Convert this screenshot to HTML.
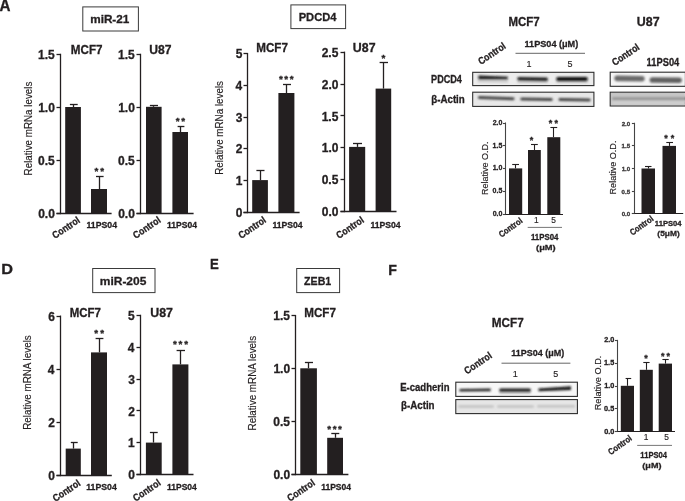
<!DOCTYPE html>
<html><head><meta charset="utf-8"><style>
html,body{margin:0;padding:0;background:#fff;}
svg{display:block;will-change:transform;}
text{font-family:"Liberation Sans", sans-serif;}
text[font-weight="bold"]{stroke:#231f20;stroke-width:0.3px;}
text[font-weight="normal"]{stroke:#231f20;stroke-width:0.15px;}
</style></head><body>
<svg width="685" height="501" viewBox="0 0 685 501">
<rect width="685" height="501" fill="#fff"/>
<text x="-0.38" y="11.40" font-size="16.5" font-weight="bold" fill="#231f20" textLength="10.98" lengthAdjust="spacingAndGlyphs">A</text>
<text x="1.31" y="274.00" font-size="14.6" font-weight="bold" fill="#231f20" textLength="11.78" lengthAdjust="spacingAndGlyphs">D</text>
<text x="210.12" y="268.60" font-size="14.8" font-weight="bold" fill="#231f20" textLength="8.80" lengthAdjust="spacingAndGlyphs">E</text>
<text x="388.15" y="275.10" font-size="15.5" font-weight="bold" fill="#231f20" textLength="8.67" lengthAdjust="spacingAndGlyphs">F</text>
<rect x="82.80" y="6.90" width="55.60" height="24.10" fill="none" stroke="#3a3a3a" stroke-width="1.0"/>
<text x="90.23" y="23.00" font-size="10.8" font-weight="bold" fill="#231f20" textLength="39.10" lengthAdjust="spacingAndGlyphs">miR-21</text>
<rect x="290.90" y="4.90" width="54.70" height="23.70" fill="none" stroke="#3a3a3a" stroke-width="1.0"/>
<text x="298.65" y="21.00" font-size="11.6" font-weight="bold" fill="#231f20" textLength="37.81" lengthAdjust="spacingAndGlyphs">PDCD4</text>
<rect x="92.70" y="268.50" width="62.30" height="24.10" fill="none" stroke="#3a3a3a" stroke-width="1.0"/>
<text x="99.81" y="285.00" font-size="11.6" font-weight="bold" fill="#231f20" textLength="46.52" lengthAdjust="spacingAndGlyphs">miR-205</text>
<rect x="296.70" y="268.50" width="42.90" height="24.10" fill="none" stroke="#3a3a3a" stroke-width="1.0"/>
<text x="304.08" y="284.60" font-size="11.6" font-weight="bold" fill="#231f20" textLength="27.21" lengthAdjust="spacingAndGlyphs">ZEB1</text>
<line x1="60.50" y1="53.75" x2="60.50" y2="214.15" stroke="#231f20" stroke-width="1.3"/>
<line x1="56.50" y1="213.50" x2="111.60" y2="213.50" stroke="#231f20" stroke-width="1.3"/>
<line x1="56.50" y1="54.50" x2="60.50" y2="54.50" stroke="#231f20" stroke-width="1.3"/>
<text x="38.05" y="59.13" font-size="12" font-weight="bold" fill="#231f20" textLength="16.68" lengthAdjust="spacingAndGlyphs">1.5</text>
<line x1="56.50" y1="107.50" x2="60.50" y2="107.50" stroke="#231f20" stroke-width="1.3"/>
<text x="38.21" y="112.13" font-size="12" font-weight="bold" fill="#231f20" textLength="16.68" lengthAdjust="spacingAndGlyphs">1.0</text>
<line x1="56.50" y1="160.50" x2="60.50" y2="160.50" stroke="#231f20" stroke-width="1.3"/>
<text x="38.05" y="165.13" font-size="12" font-weight="bold" fill="#231f20" textLength="16.68" lengthAdjust="spacingAndGlyphs">0.5</text>
<line x1="56.50" y1="213.50" x2="60.50" y2="213.50" stroke="#231f20" stroke-width="1.3"/>
<text x="38.21" y="218.13" font-size="12" font-weight="bold" fill="#231f20" textLength="16.68" lengthAdjust="spacingAndGlyphs">0.0</text>
<rect x="65.20" y="107.00" width="15.70" height="106.50" fill="#231f20"/>
<line x1="73.50" y1="104.40" x2="73.50" y2="107.00" stroke="#231f20" stroke-width="1.3"/>
<line x1="69.90" y1="104.50" x2="77.70" y2="104.50" stroke="#231f20" stroke-width="1.3"/>
<rect x="91.00" y="189.00" width="16.00" height="24.50" fill="#231f20"/>
<line x1="99.50" y1="176.40" x2="99.50" y2="189.00" stroke="#231f20" stroke-width="1.3"/>
<line x1="96.00" y1="176.50" x2="103.60" y2="176.50" stroke="#231f20" stroke-width="1.3"/>
<text x="70.82" y="54.40" font-size="12" font-weight="bold" fill="#231f20" textLength="31.69" lengthAdjust="spacingAndGlyphs">MCF7</text>
<text x="94.57" y="174.17" font-size="9.90" font-weight="bold" fill="#231f20">*</text>
<text x="100.36" y="174.17" font-size="9.90" font-weight="bold" fill="#231f20">*</text>
<text x="86.46" y="228.00" font-size="8.8" font-weight="bold" fill="#231f20" textLength="30.59" lengthAdjust="spacingAndGlyphs">11PS04</text>
<text transform="translate(55.40,238.90) rotate(-34)" x="-0.36" y="0" font-size="10.0" font-weight="bold" fill="#231f20" textLength="30.97" lengthAdjust="spacingAndGlyphs">Control</text>
<text transform="translate(31.60,174.60) rotate(-90)" x="-0.80" y="0" font-size="10.6" font-weight="normal" fill="#231f20" textLength="93.76" lengthAdjust="spacingAndGlyphs">Relative mRNa levels</text>
<line x1="140.50" y1="53.75" x2="140.50" y2="214.15" stroke="#231f20" stroke-width="1.3"/>
<line x1="136.50" y1="213.50" x2="193.60" y2="213.50" stroke="#231f20" stroke-width="1.3"/>
<line x1="136.50" y1="54.50" x2="140.50" y2="54.50" stroke="#231f20" stroke-width="1.3"/>
<text x="118.05" y="59.13" font-size="12" font-weight="bold" fill="#231f20" textLength="16.68" lengthAdjust="spacingAndGlyphs">1.5</text>
<line x1="136.50" y1="107.50" x2="140.50" y2="107.50" stroke="#231f20" stroke-width="1.3"/>
<text x="118.21" y="112.13" font-size="12" font-weight="bold" fill="#231f20" textLength="16.68" lengthAdjust="spacingAndGlyphs">1.0</text>
<line x1="136.50" y1="160.50" x2="140.50" y2="160.50" stroke="#231f20" stroke-width="1.3"/>
<text x="118.05" y="165.13" font-size="12" font-weight="bold" fill="#231f20" textLength="16.68" lengthAdjust="spacingAndGlyphs">0.5</text>
<line x1="136.50" y1="213.50" x2="140.50" y2="213.50" stroke="#231f20" stroke-width="1.3"/>
<text x="118.21" y="218.13" font-size="12" font-weight="bold" fill="#231f20" textLength="16.68" lengthAdjust="spacingAndGlyphs">0.0</text>
<rect x="146.00" y="106.80" width="15.60" height="106.70" fill="#231f20"/>
<line x1="153.50" y1="105.50" x2="153.50" y2="106.80" stroke="#231f20" stroke-width="1.3"/>
<line x1="149.90" y1="105.50" x2="158.00" y2="105.50" stroke="#231f20" stroke-width="1.3"/>
<rect x="172.40" y="132.00" width="15.60" height="81.50" fill="#231f20"/>
<line x1="180.50" y1="126.40" x2="180.50" y2="132.00" stroke="#231f20" stroke-width="1.3"/>
<line x1="177.60" y1="126.50" x2="184.40" y2="126.50" stroke="#231f20" stroke-width="1.3"/>
<text x="149.27" y="54.40" font-size="12" font-weight="bold" fill="#231f20" textLength="22.26" lengthAdjust="spacingAndGlyphs">U87</text>
<text x="175.77" y="123.97" font-size="9.90" font-weight="bold" fill="#231f20">*</text>
<text x="181.36" y="123.97" font-size="9.90" font-weight="bold" fill="#231f20">*</text>
<text x="167.07" y="228.00" font-size="8.8" font-weight="bold" fill="#231f20" textLength="29.98" lengthAdjust="spacingAndGlyphs">11PS04</text>
<text transform="translate(136.10,238.70) rotate(-34)" x="-0.36" y="0" font-size="10.0" font-weight="bold" fill="#231f20" textLength="30.97" lengthAdjust="spacingAndGlyphs">Control</text>
<text transform="translate(222.60,174.00) rotate(-90)" x="-0.80" y="0" font-size="10.6" font-weight="normal" fill="#231f20" textLength="93.76" lengthAdjust="spacingAndGlyphs">Relative mRNa levels</text>
<line x1="247.50" y1="52.95" x2="247.50" y2="213.15" stroke="#231f20" stroke-width="1.3"/>
<line x1="243.50" y1="212.50" x2="299.60" y2="212.50" stroke="#231f20" stroke-width="1.3"/>
<line x1="243.50" y1="53.50" x2="247.50" y2="53.50" stroke="#231f20" stroke-width="1.3"/>
<text x="235.66" y="58.33" font-size="12" font-weight="bold" fill="#231f20" textLength="6.67" lengthAdjust="spacingAndGlyphs">5</text>
<line x1="243.50" y1="85.50" x2="247.50" y2="85.50" stroke="#231f20" stroke-width="1.3"/>
<text x="235.39" y="90.05" font-size="12" font-weight="bold" fill="#231f20" textLength="6.67" lengthAdjust="spacingAndGlyphs">4</text>
<line x1="243.50" y1="117.50" x2="247.50" y2="117.50" stroke="#231f20" stroke-width="1.3"/>
<text x="235.76" y="121.77" font-size="12" font-weight="bold" fill="#231f20" textLength="6.67" lengthAdjust="spacingAndGlyphs">3</text>
<line x1="243.50" y1="148.50" x2="247.50" y2="148.50" stroke="#231f20" stroke-width="1.3"/>
<text x="235.81" y="153.49" font-size="12" font-weight="bold" fill="#231f20" textLength="6.67" lengthAdjust="spacingAndGlyphs">2</text>
<line x1="243.50" y1="180.50" x2="247.50" y2="180.50" stroke="#231f20" stroke-width="1.3"/>
<text x="235.66" y="185.21" font-size="12" font-weight="bold" fill="#231f20" textLength="6.67" lengthAdjust="spacingAndGlyphs">1</text>
<line x1="243.50" y1="212.50" x2="247.50" y2="212.50" stroke="#231f20" stroke-width="1.3"/>
<text x="235.82" y="216.93" font-size="12" font-weight="bold" fill="#231f20" textLength="6.67" lengthAdjust="spacingAndGlyphs">0</text>
<rect x="252.20" y="180.10" width="15.70" height="32.40" fill="#231f20"/>
<line x1="260.50" y1="170.10" x2="260.50" y2="180.10" stroke="#231f20" stroke-width="1.3"/>
<line x1="256.40" y1="170.50" x2="264.50" y2="170.50" stroke="#231f20" stroke-width="1.3"/>
<rect x="278.40" y="93.00" width="16.00" height="119.50" fill="#231f20"/>
<line x1="286.50" y1="84.40" x2="286.50" y2="93.00" stroke="#231f20" stroke-width="1.3"/>
<line x1="283.00" y1="84.50" x2="291.00" y2="84.50" stroke="#231f20" stroke-width="1.3"/>
<text x="256.22" y="52.40" font-size="12" font-weight="bold" fill="#231f20" textLength="31.69" lengthAdjust="spacingAndGlyphs">MCF7</text>
<text x="278.97" y="81.57" font-size="9.90" font-weight="bold" fill="#231f20">*</text>
<text x="284.36" y="81.57" font-size="9.90" font-weight="bold" fill="#231f20">*</text>
<text x="289.76" y="81.57" font-size="9.90" font-weight="bold" fill="#231f20">*</text>
<text x="272.47" y="228.00" font-size="8.8" font-weight="bold" fill="#231f20" textLength="30.18" lengthAdjust="spacingAndGlyphs">11PS04</text>
<text transform="translate(241.50,238.70) rotate(-34)" x="-0.36" y="0" font-size="10.0" font-weight="bold" fill="#231f20" textLength="30.97" lengthAdjust="spacingAndGlyphs">Control</text>
<line x1="344.50" y1="51.65" x2="344.50" y2="212.15" stroke="#231f20" stroke-width="1.3"/>
<line x1="340.50" y1="211.50" x2="396.50" y2="211.50" stroke="#231f20" stroke-width="1.3"/>
<line x1="340.50" y1="52.50" x2="344.50" y2="52.50" stroke="#231f20" stroke-width="1.3"/>
<text x="321.65" y="57.03" font-size="12" font-weight="bold" fill="#231f20" textLength="16.68" lengthAdjust="spacingAndGlyphs">2.5</text>
<line x1="340.50" y1="84.50" x2="344.50" y2="84.50" stroke="#231f20" stroke-width="1.3"/>
<text x="321.81" y="88.83" font-size="12" font-weight="bold" fill="#231f20" textLength="16.68" lengthAdjust="spacingAndGlyphs">2.0</text>
<line x1="340.50" y1="115.50" x2="344.50" y2="115.50" stroke="#231f20" stroke-width="1.3"/>
<text x="321.65" y="120.63" font-size="12" font-weight="bold" fill="#231f20" textLength="16.68" lengthAdjust="spacingAndGlyphs">1.5</text>
<line x1="340.50" y1="147.50" x2="344.50" y2="147.50" stroke="#231f20" stroke-width="1.3"/>
<text x="321.81" y="152.43" font-size="12" font-weight="bold" fill="#231f20" textLength="16.68" lengthAdjust="spacingAndGlyphs">1.0</text>
<line x1="340.50" y1="179.50" x2="344.50" y2="179.50" stroke="#231f20" stroke-width="1.3"/>
<text x="321.65" y="184.23" font-size="12" font-weight="bold" fill="#231f20" textLength="16.68" lengthAdjust="spacingAndGlyphs">0.5</text>
<line x1="340.50" y1="211.50" x2="344.50" y2="211.50" stroke="#231f20" stroke-width="1.3"/>
<text x="321.81" y="216.03" font-size="12" font-weight="bold" fill="#231f20" textLength="16.68" lengthAdjust="spacingAndGlyphs">0.0</text>
<rect x="349.10" y="146.90" width="16.10" height="64.60" fill="#231f20"/>
<line x1="357.50" y1="143.80" x2="357.50" y2="146.90" stroke="#231f20" stroke-width="1.3"/>
<line x1="353.00" y1="143.50" x2="362.00" y2="143.50" stroke="#231f20" stroke-width="1.3"/>
<rect x="375.60" y="88.60" width="15.60" height="122.90" fill="#231f20"/>
<line x1="383.50" y1="62.80" x2="383.50" y2="88.60" stroke="#231f20" stroke-width="1.3"/>
<line x1="379.60" y1="62.50" x2="388.00" y2="62.50" stroke="#231f20" stroke-width="1.3"/>
<text x="352.86" y="52.40" font-size="12" font-weight="bold" fill="#231f20" textLength="22.69" lengthAdjust="spacingAndGlyphs">U87</text>
<text x="381.56" y="61.37" font-size="9.90" font-weight="bold" fill="#231f20">*</text>
<text x="370.47" y="228.00" font-size="8.8" font-weight="bold" fill="#231f20" textLength="30.18" lengthAdjust="spacingAndGlyphs">11PS04</text>
<text transform="translate(339.30,238.70) rotate(-34)" x="-0.36" y="0" font-size="10.0" font-weight="bold" fill="#231f20" textLength="30.97" lengthAdjust="spacingAndGlyphs">Control</text>
<line x1="60.50" y1="315.55" x2="60.50" y2="476.15" stroke="#231f20" stroke-width="1.3"/>
<line x1="56.50" y1="475.50" x2="111.80" y2="475.50" stroke="#231f20" stroke-width="1.3"/>
<line x1="56.50" y1="316.50" x2="60.50" y2="316.50" stroke="#231f20" stroke-width="1.3"/>
<text x="48.16" y="320.93" font-size="12" font-weight="bold" fill="#231f20" textLength="6.67" lengthAdjust="spacingAndGlyphs">6</text>
<line x1="56.50" y1="369.50" x2="60.50" y2="369.50" stroke="#231f20" stroke-width="1.3"/>
<text x="47.79" y="374.03" font-size="12" font-weight="bold" fill="#231f20" textLength="6.67" lengthAdjust="spacingAndGlyphs">4</text>
<line x1="56.50" y1="422.50" x2="60.50" y2="422.50" stroke="#231f20" stroke-width="1.3"/>
<text x="48.21" y="427.13" font-size="12" font-weight="bold" fill="#231f20" textLength="6.67" lengthAdjust="spacingAndGlyphs">2</text>
<line x1="56.50" y1="475.50" x2="60.50" y2="475.50" stroke="#231f20" stroke-width="1.3"/>
<text x="48.22" y="480.23" font-size="12" font-weight="bold" fill="#231f20" textLength="6.67" lengthAdjust="spacingAndGlyphs">0</text>
<rect x="65.70" y="448.60" width="15.10" height="26.90" fill="#231f20"/>
<line x1="73.50" y1="442.30" x2="73.50" y2="448.60" stroke="#231f20" stroke-width="1.3"/>
<line x1="70.80" y1="442.50" x2="77.70" y2="442.50" stroke="#231f20" stroke-width="1.3"/>
<rect x="91.00" y="352.40" width="16.00" height="123.10" fill="#231f20"/>
<line x1="99.50" y1="338.40" x2="99.50" y2="352.40" stroke="#231f20" stroke-width="1.3"/>
<line x1="95.60" y1="338.50" x2="103.40" y2="338.50" stroke="#231f20" stroke-width="1.3"/>
<text x="69.63" y="317.00" font-size="12" font-weight="bold" fill="#231f20" textLength="31.27" lengthAdjust="spacingAndGlyphs">MCF7</text>
<text x="94.37" y="336.17" font-size="9.90" font-weight="bold" fill="#231f20">*</text>
<text x="100.16" y="336.17" font-size="9.90" font-weight="bold" fill="#231f20">*</text>
<text x="86.26" y="490.20" font-size="8.8" font-weight="bold" fill="#231f20" textLength="30.49" lengthAdjust="spacingAndGlyphs">11PS04</text>
<text transform="translate(55.80,501.90) rotate(-34)" x="-0.36" y="0" font-size="10.0" font-weight="bold" fill="#231f20" textLength="30.97" lengthAdjust="spacingAndGlyphs">Control</text>
<text transform="translate(31.40,429.00) rotate(-90)" x="-0.80" y="0" font-size="10.6" font-weight="normal" fill="#231f20" textLength="94.56" lengthAdjust="spacingAndGlyphs">Relative mRNA levels</text>
<line x1="140.50" y1="314.75" x2="140.50" y2="475.15" stroke="#231f20" stroke-width="1.3"/>
<line x1="136.50" y1="474.50" x2="193.50" y2="474.50" stroke="#231f20" stroke-width="1.3"/>
<line x1="136.50" y1="315.50" x2="140.50" y2="315.50" stroke="#231f20" stroke-width="1.3"/>
<text x="128.06" y="320.13" font-size="12" font-weight="bold" fill="#231f20" textLength="6.67" lengthAdjust="spacingAndGlyphs">5</text>
<line x1="136.50" y1="347.50" x2="140.50" y2="347.50" stroke="#231f20" stroke-width="1.3"/>
<text x="127.79" y="351.97" font-size="12" font-weight="bold" fill="#231f20" textLength="6.67" lengthAdjust="spacingAndGlyphs">4</text>
<line x1="136.50" y1="379.50" x2="140.50" y2="379.50" stroke="#231f20" stroke-width="1.3"/>
<text x="128.16" y="383.81" font-size="12" font-weight="bold" fill="#231f20" textLength="6.67" lengthAdjust="spacingAndGlyphs">3</text>
<line x1="136.50" y1="410.50" x2="140.50" y2="410.50" stroke="#231f20" stroke-width="1.3"/>
<text x="128.21" y="415.65" font-size="12" font-weight="bold" fill="#231f20" textLength="6.67" lengthAdjust="spacingAndGlyphs">2</text>
<line x1="136.50" y1="442.50" x2="140.50" y2="442.50" stroke="#231f20" stroke-width="1.3"/>
<text x="128.06" y="447.49" font-size="12" font-weight="bold" fill="#231f20" textLength="6.67" lengthAdjust="spacingAndGlyphs">1</text>
<line x1="136.50" y1="474.50" x2="140.50" y2="474.50" stroke="#231f20" stroke-width="1.3"/>
<text x="128.22" y="479.33" font-size="12" font-weight="bold" fill="#231f20" textLength="6.67" lengthAdjust="spacingAndGlyphs">0</text>
<rect x="145.90" y="442.60" width="15.80" height="31.90" fill="#231f20"/>
<line x1="153.50" y1="432.70" x2="153.50" y2="442.60" stroke="#231f20" stroke-width="1.3"/>
<line x1="149.90" y1="432.50" x2="157.70" y2="432.50" stroke="#231f20" stroke-width="1.3"/>
<rect x="172.40" y="364.40" width="16.00" height="110.10" fill="#231f20"/>
<line x1="180.50" y1="350.00" x2="180.50" y2="364.40" stroke="#231f20" stroke-width="1.3"/>
<line x1="176.60" y1="350.50" x2="185.00" y2="350.50" stroke="#231f20" stroke-width="1.3"/>
<text x="150.26" y="317.00" font-size="12" font-weight="bold" fill="#231f20" textLength="22.69" lengthAdjust="spacingAndGlyphs">U87</text>
<text x="172.97" y="346.97" font-size="9.90" font-weight="bold" fill="#231f20">*</text>
<text x="178.56" y="346.97" font-size="9.90" font-weight="bold" fill="#231f20">*</text>
<text x="184.16" y="346.97" font-size="9.90" font-weight="bold" fill="#231f20">*</text>
<text x="166.97" y="490.20" font-size="8.8" font-weight="bold" fill="#231f20" textLength="29.87" lengthAdjust="spacingAndGlyphs">11PS04</text>
<text transform="translate(136.10,501.60) rotate(-34)" x="-0.36" y="0" font-size="10.0" font-weight="bold" fill="#231f20" textLength="30.97" lengthAdjust="spacingAndGlyphs">Control</text>
<line x1="295.50" y1="314.95" x2="295.50" y2="475.15" stroke="#231f20" stroke-width="1.3"/>
<line x1="291.50" y1="474.50" x2="348.40" y2="474.50" stroke="#231f20" stroke-width="1.3"/>
<line x1="291.50" y1="315.50" x2="295.50" y2="315.50" stroke="#231f20" stroke-width="1.3"/>
<text x="273.25" y="320.33" font-size="12" font-weight="bold" fill="#231f20" textLength="16.68" lengthAdjust="spacingAndGlyphs">1.5</text>
<line x1="291.50" y1="368.50" x2="295.50" y2="368.50" stroke="#231f20" stroke-width="1.3"/>
<text x="273.41" y="373.33" font-size="12" font-weight="bold" fill="#231f20" textLength="16.68" lengthAdjust="spacingAndGlyphs">1.0</text>
<line x1="291.50" y1="421.50" x2="295.50" y2="421.50" stroke="#231f20" stroke-width="1.3"/>
<text x="273.25" y="426.33" font-size="12" font-weight="bold" fill="#231f20" textLength="16.68" lengthAdjust="spacingAndGlyphs">0.5</text>
<line x1="291.50" y1="474.50" x2="295.50" y2="474.50" stroke="#231f20" stroke-width="1.3"/>
<text x="273.41" y="479.33" font-size="12" font-weight="bold" fill="#231f20" textLength="16.68" lengthAdjust="spacingAndGlyphs">0.0</text>
<rect x="300.30" y="368.30" width="16.60" height="106.20" fill="#231f20"/>
<line x1="308.50" y1="362.00" x2="308.50" y2="368.30" stroke="#231f20" stroke-width="1.3"/>
<line x1="304.90" y1="362.50" x2="313.00" y2="362.50" stroke="#231f20" stroke-width="1.3"/>
<rect x="327.20" y="437.80" width="15.80" height="36.70" fill="#231f20"/>
<line x1="335.50" y1="433.60" x2="335.50" y2="437.80" stroke="#231f20" stroke-width="1.3"/>
<line x1="331.30" y1="433.50" x2="339.30" y2="433.50" stroke="#231f20" stroke-width="1.3"/>
<text x="304.22" y="317.00" font-size="12" font-weight="bold" fill="#231f20" textLength="31.69" lengthAdjust="spacingAndGlyphs">MCF7</text>
<text x="327.37" y="432.17" font-size="9.90" font-weight="bold" fill="#231f20">*</text>
<text x="332.66" y="432.17" font-size="9.90" font-weight="bold" fill="#231f20">*</text>
<text x="337.96" y="432.17" font-size="9.90" font-weight="bold" fill="#231f20">*</text>
<text x="321.17" y="490.20" font-size="8.8" font-weight="bold" fill="#231f20" textLength="29.87" lengthAdjust="spacingAndGlyphs">11PS04</text>
<text transform="translate(290.30,501.60) rotate(-34)" x="-0.36" y="0" font-size="10.0" font-weight="bold" fill="#231f20" textLength="30.97" lengthAdjust="spacingAndGlyphs">Control</text>
<text transform="translate(255.80,429.60) rotate(-90)" x="-0.80" y="0" font-size="10.6" font-weight="normal" fill="#231f20" textLength="94.56" lengthAdjust="spacingAndGlyphs">Relative mRNA levels</text>
<defs><filter id="bl1" filterUnits="userSpaceOnUse" x="0" y="0" width="685" height="501"><feGaussianBlur stdDeviation="1.0"/></filter><filter id="bl2" filterUnits="userSpaceOnUse" x="0" y="0" width="685" height="501"><feGaussianBlur stdDeviation="1.2"/></filter><filter id="bl3" filterUnits="userSpaceOnUse" x="0" y="0" width="685" height="501"><feGaussianBlur stdDeviation="0.5"/></filter></defs>
<text x="508.43" y="26.40" font-size="12" font-weight="bold" fill="#231f20" textLength="31.27" lengthAdjust="spacingAndGlyphs">MCF7</text>
<text transform="translate(481.20,64.70) rotate(-34)" x="-0.36" y="0" font-size="10.0" font-weight="bold" fill="#231f20" textLength="30.97" lengthAdjust="spacingAndGlyphs">Control</text>
<text x="524.53" y="46.80" font-size="9.4" font-weight="bold" fill="#231f20" textLength="53.72" lengthAdjust="spacingAndGlyphs">11PS04 (μM)</text>
<line x1="515.50" y1="53.30" x2="585.00" y2="53.30" stroke="#555" stroke-width="0.9"/>
<text x="526.57" y="66.50" font-size="9.0" font-weight="normal" fill="#231f20">1</text>
<text x="567.41" y="66.50" font-size="9.0" font-weight="normal" fill="#231f20">5</text>
<text x="431.09" y="82.70" font-size="10.2" font-weight="bold" fill="#231f20" textLength="30.86" lengthAdjust="spacingAndGlyphs">PDCD4</text>
<text x="431.22" y="102.60" font-size="10.2" font-weight="bold" fill="#231f20" textLength="33.58" lengthAdjust="spacingAndGlyphs">β-Actin</text>
<rect x="473.30" y="72.90" width="120.00" height="12.10" fill="#ececec"/>
<line x1="478.60" y1="81.30" x2="507.40" y2="81.60" stroke="#c4c4c4" stroke-width="2.00" stroke-linecap="round" opacity="1.0" filter="url(#bl2)"/>
<line x1="518.20" y1="82.00" x2="547.00" y2="82.00" stroke="#c4c4c4" stroke-width="2.00" stroke-linecap="round" opacity="1.0" filter="url(#bl2)"/>
<line x1="557.10" y1="82.00" x2="586.90" y2="82.00" stroke="#c4c4c4" stroke-width="2.00" stroke-linecap="round" opacity="1.0" filter="url(#bl2)"/>
<path d="M478.40,75.40 L507.80,76.80 L507.80,79.20 L478.40,79.20 Z" fill="#161616" opacity="1.0" filter="url(#bl1)"/>
<line x1="519.00" y1="78.80" x2="546.20" y2="79.20" stroke="#1e1e1e" stroke-width="3.60" stroke-linecap="round" opacity="1.0" filter="url(#bl1)"/>
<line x1="558.10" y1="78.90" x2="585.90" y2="78.90" stroke="#0e0e0e" stroke-width="4.00" stroke-linecap="round" opacity="1.0" filter="url(#bl1)"/>
<rect x="472.70" y="72.30" width="121.20" height="13.30" fill="none" stroke="#2c2c2c" stroke-width="1.1"/>
<rect x="473.30" y="92.80" width="120.00" height="13.00" fill="#e8e8e8"/>
<line x1="479.50" y1="97.60" x2="513.10" y2="98.70" stroke="#444" stroke-width="3.00" stroke-linecap="round" opacity="1.0" filter="url(#bl1)"/>
<line x1="521.80" y1="99.10" x2="551.30" y2="99.40" stroke="#444" stroke-width="3.00" stroke-linecap="round" opacity="1.0" filter="url(#bl1)"/>
<line x1="560.00" y1="99.60" x2="589.20" y2="99.90" stroke="#444" stroke-width="3.00" stroke-linecap="round" opacity="1.0" filter="url(#bl1)"/>
<rect x="472.70" y="92.20" width="121.20" height="14.20" fill="none" stroke="#2c2c2c" stroke-width="1.1"/>
<text x="636.85" y="26.30" font-size="12" font-weight="bold" fill="#231f20" textLength="22.79" lengthAdjust="spacingAndGlyphs">U87</text>
<text transform="translate(615.00,65.90) rotate(-34)" x="-0.36" y="0" font-size="10.0" font-weight="bold" fill="#231f20" textLength="30.97" lengthAdjust="spacingAndGlyphs">Control</text>
<text x="646.62" y="65.80" font-size="10.4" font-weight="bold" fill="#231f20" textLength="32.63" lengthAdjust="spacingAndGlyphs">11PS04</text>
<rect x="610.80" y="72.80" width="73.60" height="12.90" fill="#f6f6f6"/>
<line x1="617.10" y1="78.40" x2="641.90" y2="78.80" stroke="#6a6a6a" stroke-width="5.60" stroke-linecap="round" opacity="1.0" filter="url(#bl2)"/>
<line x1="652.40" y1="80.00" x2="679.10" y2="80.20" stroke="#606060" stroke-width="5.60" stroke-linecap="round" opacity="1.0" filter="url(#bl2)"/>
<rect x="610.20" y="72.20" width="75.20" height="14.10" fill="none" stroke="#2c2c2c" stroke-width="1.1"/>
<rect x="610.80" y="92.80" width="73.60" height="12.60" fill="#c6c6c6"/>
<line x1="613.30" y1="98.60" x2="688.70" y2="98.60" stroke="#959595" stroke-width="2.60" stroke-linecap="round" opacity="1.0" filter="url(#bl2)"/>
<line x1="613.00" y1="103.00" x2="689.00" y2="103.00" stroke="#d2d2d2" stroke-width="2.00" stroke-linecap="round" opacity="1.0" filter="url(#bl2)"/>
<rect x="610.20" y="92.20" width="75.20" height="13.80" fill="none" stroke="#2c2c2c" stroke-width="1.1"/>
<line x1="505.50" y1="122.45" x2="505.50" y2="215.05" stroke="#444" stroke-width="1.1"/>
<line x1="502.90" y1="214.50" x2="563.00" y2="214.50" stroke="#231f20" stroke-width="1.1"/>
<line x1="502.90" y1="214.50" x2="505.50" y2="214.50" stroke="#444" stroke-width="1.1"/>
<text x="492.66" y="215.85" font-size="7.0" font-weight="bold" fill="#231f20">0.0</text>
<line x1="502.90" y1="191.50" x2="505.50" y2="191.50" stroke="#444" stroke-width="1.1"/>
<text x="492.56" y="193.10" font-size="7.0" font-weight="bold" fill="#231f20">0.5</text>
<line x1="502.90" y1="168.50" x2="505.50" y2="168.50" stroke="#444" stroke-width="1.1"/>
<text x="492.66" y="170.35" font-size="7.0" font-weight="bold" fill="#231f20">1.0</text>
<line x1="502.90" y1="145.50" x2="505.50" y2="145.50" stroke="#444" stroke-width="1.1"/>
<text x="492.56" y="147.60" font-size="7.0" font-weight="bold" fill="#231f20">1.5</text>
<line x1="502.90" y1="123.50" x2="505.50" y2="123.50" stroke="#444" stroke-width="1.1"/>
<text x="492.66" y="124.85" font-size="7.0" font-weight="bold" fill="#231f20">2.0</text>
<rect x="509.00" y="168.40" width="13.20" height="45.60" fill="#231f20"/>
<line x1="515.50" y1="164.20" x2="515.50" y2="168.40" stroke="#231f20" stroke-width="1.1"/>
<line x1="512.20" y1="164.50" x2="519.00" y2="164.50" stroke="#231f20" stroke-width="1.1"/>
<rect x="528.00" y="150.00" width="12.80" height="64.00" fill="#231f20"/>
<line x1="534.50" y1="144.20" x2="534.50" y2="150.00" stroke="#231f20" stroke-width="1.1"/>
<line x1="531.00" y1="144.50" x2="537.80" y2="144.50" stroke="#231f20" stroke-width="1.1"/>
<rect x="547.30" y="137.20" width="13.00" height="76.80" fill="#231f20"/>
<line x1="553.50" y1="127.60" x2="553.50" y2="137.20" stroke="#231f20" stroke-width="1.1"/>
<line x1="550.40" y1="127.50" x2="557.20" y2="127.50" stroke="#231f20" stroke-width="1.1"/>
<text transform="translate(488.40,194.30) rotate(-90)" x="-0.74" y="0" font-size="9.4" font-weight="normal" fill="#231f20" textLength="53.46" lengthAdjust="spacingAndGlyphs">Relative O.D.</text>
<text x="529.84" y="142.82" font-size="9.00" font-weight="bold" fill="#231f20">*</text>
<text x="548.77" y="126.22" font-size="9.00" font-weight="bold" fill="#231f20">*</text>
<text x="554.51" y="126.22" font-size="9.00" font-weight="bold" fill="#231f20">*</text>
<text x="533.95" y="223.20" font-size="8.4" font-weight="normal" fill="#231f20">1</text>
<text x="551.37" y="223.20" font-size="8.4" font-weight="normal" fill="#231f20">5</text>
<line x1="527.70" y1="227.40" x2="562.00" y2="227.40" stroke="#666" stroke-width="0.9"/>
<text x="530.91" y="240.10" font-size="8.3" font-weight="bold" fill="#231f20" textLength="27.53" lengthAdjust="spacingAndGlyphs">11PS04</text>
<text x="536.04" y="250.00" font-size="8.0" font-weight="bold" fill="#231f20" textLength="19.63" lengthAdjust="spacingAndGlyphs">(μM)</text>
<text transform="translate(501.70,237.60) rotate(-36)" x="-0.31" y="0" font-size="8.8" font-weight="bold" fill="#231f20" textLength="26.84" lengthAdjust="spacingAndGlyphs">Control</text>
<line x1="634.50" y1="122.75" x2="634.50" y2="214.05" stroke="#444" stroke-width="1.1"/>
<line x1="631.90" y1="213.50" x2="683.20" y2="213.50" stroke="#231f20" stroke-width="1.1"/>
<line x1="631.90" y1="213.50" x2="634.50" y2="213.50" stroke="#444" stroke-width="1.1"/>
<text x="621.64" y="216.17" font-size="6.2" font-weight="bold" fill="#555">0.0</text>
<line x1="631.90" y1="191.50" x2="634.50" y2="191.50" stroke="#444" stroke-width="1.1"/>
<text x="621.55" y="193.52" font-size="6.2" font-weight="bold" fill="#555">0.5</text>
<line x1="631.90" y1="168.50" x2="634.50" y2="168.50" stroke="#444" stroke-width="1.1"/>
<text x="621.64" y="170.87" font-size="6.2" font-weight="bold" fill="#555">1.0</text>
<line x1="631.90" y1="145.50" x2="634.50" y2="145.50" stroke="#444" stroke-width="1.1"/>
<text x="621.55" y="148.22" font-size="6.2" font-weight="bold" fill="#555">1.5</text>
<line x1="631.90" y1="123.50" x2="634.50" y2="123.50" stroke="#444" stroke-width="1.1"/>
<text x="621.64" y="125.57" font-size="6.2" font-weight="bold" fill="#555">2.0</text>
<rect x="641.50" y="168.50" width="13.50" height="45.40" fill="#231f20"/>
<line x1="648.50" y1="166.70" x2="648.50" y2="168.50" stroke="#231f20" stroke-width="1.1"/>
<line x1="645.00" y1="166.50" x2="651.50" y2="166.50" stroke="#231f20" stroke-width="1.1"/>
<rect x="662.50" y="145.90" width="13.50" height="68.00" fill="#231f20"/>
<line x1="669.50" y1="142.30" x2="669.50" y2="145.90" stroke="#231f20" stroke-width="1.1"/>
<line x1="666.30" y1="142.50" x2="673.00" y2="142.50" stroke="#231f20" stroke-width="1.1"/>
<text transform="translate(616.40,193.70) rotate(-90)" x="-0.74" y="0" font-size="9.4" font-weight="normal" fill="#231f20" textLength="53.87" lengthAdjust="spacingAndGlyphs">Relative O.D.</text>
<text x="664.27" y="141.12" font-size="9.00" font-weight="bold" fill="#231f20">*</text>
<text x="670.71" y="141.12" font-size="9.00" font-weight="bold" fill="#231f20">*</text>
<text x="654.83" y="226.20" font-size="7.6" font-weight="bold" fill="#231f20" textLength="26.71" lengthAdjust="spacingAndGlyphs">11PS04</text>
<text x="657.38" y="235.60" font-size="7.8" font-weight="bold" fill="#231f20" textLength="22.33" lengthAdjust="spacingAndGlyphs">(5μM)</text>
<text transform="translate(632.70,235.60) rotate(-36)" x="-0.31" y="0" font-size="8.8" font-weight="bold" fill="#231f20" textLength="26.84" lengthAdjust="spacingAndGlyphs">Control</text>
<text x="491.82" y="326.60" font-size="12" font-weight="bold" fill="#231f20" textLength="31.90" lengthAdjust="spacingAndGlyphs">MCF7</text>
<text transform="translate(467.30,374.20) rotate(-34)" x="-0.36" y="0" font-size="10.0" font-weight="bold" fill="#231f20" textLength="30.97" lengthAdjust="spacingAndGlyphs">Control</text>
<text x="511.14" y="356.40" font-size="9.4" font-weight="bold" fill="#231f20" textLength="53.01" lengthAdjust="spacingAndGlyphs">11PS04 (μM)</text>
<line x1="501.50" y1="363.20" x2="570.40" y2="363.20" stroke="#555" stroke-width="0.9"/>
<text x="512.67" y="377.20" font-size="9.0" font-weight="normal" fill="#231f20">1</text>
<text x="553.31" y="377.20" font-size="9.0" font-weight="normal" fill="#231f20">5</text>
<text x="400.26" y="391.00" font-size="10.4" font-weight="bold" fill="#231f20" textLength="49.23" lengthAdjust="spacingAndGlyphs">E-cadherin</text>
<text x="400.92" y="409.40" font-size="10.4" font-weight="bold" fill="#231f20" textLength="33.68" lengthAdjust="spacingAndGlyphs">β-Actin</text>
<rect x="456.40" y="382.80" width="120.40" height="13.00" fill="#f7f7f7"/>
<path d="M459.50,389.00 L490.60,388.50 L490.60,391.30 L459.50,391.40 Z" fill="#202020" opacity="1.0" filter="url(#bl1)"/>
<line x1="499.90" y1="392.80" x2="530.20" y2="392.80" stroke="#999" stroke-width="1.60" stroke-linecap="round" opacity="0.8" filter="url(#bl2)"/>
<line x1="500.80" y1="390.10" x2="529.30" y2="390.10" stroke="#1a1a1a" stroke-width="3.40" stroke-linecap="round" opacity="1.0" filter="url(#bl1)"/>
<path d="M538.50,388.40 L571.00,386.30 L571.00,390.10 L538.50,391.20 Z" fill="#151515" opacity="1.0" filter="url(#bl1)"/>
<rect x="455.80" y="382.20" width="121.60" height="14.20" fill="none" stroke="#2c2c2c" stroke-width="1.1"/>
<rect x="456.40" y="400.20" width="120.40" height="12.80" fill="#e6e6e6"/>
<line x1="459.30" y1="406.50" x2="492.70" y2="406.50" stroke="#c2c2c2" stroke-width="2.60" stroke-linecap="round" opacity="1.0" filter="url(#bl2)"/>
<line x1="498.30" y1="406.50" x2="532.70" y2="406.50" stroke="#c2c2c2" stroke-width="2.60" stroke-linecap="round" opacity="1.0" filter="url(#bl2)"/>
<line x1="538.30" y1="406.30" x2="573.70" y2="406.30" stroke="#c2c2c2" stroke-width="2.60" stroke-linecap="round" opacity="1.0" filter="url(#bl2)"/>
<rect x="455.80" y="399.60" width="121.60" height="14.00" fill="none" stroke="#2c2c2c" stroke-width="1.1"/>
<line x1="617.50" y1="339.85" x2="617.50" y2="432.05" stroke="#444" stroke-width="1.1"/>
<line x1="614.90" y1="431.50" x2="675.00" y2="431.50" stroke="#231f20" stroke-width="1.1"/>
<line x1="614.90" y1="431.50" x2="617.50" y2="431.50" stroke="#444" stroke-width="1.1"/>
<text x="604.15" y="433.75" font-size="7.3" font-weight="bold" fill="#231f20">0.0</text>
<line x1="614.90" y1="408.50" x2="617.50" y2="408.50" stroke="#444" stroke-width="1.1"/>
<text x="604.06" y="410.90" font-size="7.3" font-weight="bold" fill="#231f20">0.5</text>
<line x1="614.90" y1="386.50" x2="617.50" y2="386.50" stroke="#444" stroke-width="1.1"/>
<text x="604.15" y="388.06" font-size="7.3" font-weight="bold" fill="#231f20">1.0</text>
<line x1="614.90" y1="363.50" x2="617.50" y2="363.50" stroke="#444" stroke-width="1.1"/>
<text x="604.06" y="365.20" font-size="7.3" font-weight="bold" fill="#231f20">1.5</text>
<line x1="614.90" y1="340.50" x2="617.50" y2="340.50" stroke="#444" stroke-width="1.1"/>
<text x="604.15" y="342.35" font-size="7.3" font-weight="bold" fill="#231f20">2.0</text>
<rect x="620.80" y="385.80" width="13.20" height="46.00" fill="#231f20"/>
<line x1="627.50" y1="378.40" x2="627.50" y2="385.80" stroke="#231f20" stroke-width="1.1"/>
<line x1="625.60" y1="378.50" x2="631.20" y2="378.50" stroke="#231f20" stroke-width="1.1"/>
<rect x="639.80" y="369.80" width="13.00" height="62.00" fill="#231f20"/>
<line x1="646.50" y1="362.50" x2="646.50" y2="369.80" stroke="#231f20" stroke-width="1.1"/>
<line x1="643.30" y1="362.50" x2="649.60" y2="362.50" stroke="#231f20" stroke-width="1.1"/>
<rect x="658.70" y="363.60" width="13.30" height="68.20" fill="#231f20"/>
<line x1="665.50" y1="359.60" x2="665.50" y2="363.60" stroke="#231f20" stroke-width="1.1"/>
<line x1="662.40" y1="359.50" x2="668.70" y2="359.50" stroke="#231f20" stroke-width="1.1"/>
<text transform="translate(601.00,409.60) rotate(-90)" x="-0.75" y="0" font-size="9.4" font-weight="normal" fill="#231f20" textLength="54.69" lengthAdjust="spacingAndGlyphs">Relative O.D.</text>
<text x="644.14" y="361.32" font-size="9.00" font-weight="bold" fill="#231f20">*</text>
<text x="660.97" y="358.72" font-size="9.00" font-weight="bold" fill="#231f20">*</text>
<text x="666.51" y="358.72" font-size="9.00" font-weight="bold" fill="#231f20">*</text>
<text x="643.75" y="440.30" font-size="8.4" font-weight="normal" fill="#231f20">1</text>
<text x="664.27" y="440.30" font-size="8.4" font-weight="normal" fill="#231f20">5</text>
<line x1="637.20" y1="445.40" x2="672.00" y2="445.40" stroke="#666" stroke-width="0.9"/>
<text x="640.33" y="457.80" font-size="8.4" font-weight="bold" fill="#231f20" textLength="26.71" lengthAdjust="spacingAndGlyphs">11PS04</text>
<text x="642.35" y="468.00" font-size="8.0" font-weight="bold" fill="#231f20" textLength="19.10" lengthAdjust="spacingAndGlyphs">(μM)</text>
<text transform="translate(611.10,455.10) rotate(-36)" x="-0.31" y="0" font-size="8.8" font-weight="bold" fill="#231f20" textLength="26.84" lengthAdjust="spacingAndGlyphs">Control</text>
</svg>
</body></html>
